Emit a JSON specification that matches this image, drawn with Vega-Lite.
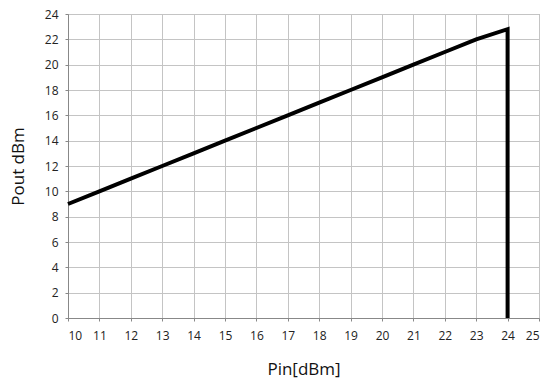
{
  "$schema": "https://vega.github.io/schema/vega-lite/v6.json",
  "width": 471,
  "height": 304,
  "autosize": "none",
  "padding": {"left": 68, "top": 14, "right": 9, "bottom": 66},
  "background": "white",
  "data": {
    "values": [
      {"pin": 10, "pout": 9, "o": 0},
      {"pin": 11, "pout": 10, "o": 1},
      {"pin": 12, "pout": 11, "o": 2},
      {"pin": 13, "pout": 12, "o": 3},
      {"pin": 14, "pout": 13, "o": 4},
      {"pin": 15, "pout": 14, "o": 5},
      {"pin": 16, "pout": 15, "o": 6},
      {"pin": 17, "pout": 16, "o": 7},
      {"pin": 18, "pout": 17, "o": 8},
      {"pin": 19, "pout": 18, "o": 9},
      {"pin": 20, "pout": 19, "o": 10},
      {"pin": 21, "pout": 20, "o": 11},
      {"pin": 22, "pout": 21, "o": 12},
      {"pin": 23, "pout": 22, "o": 13},
      {"pin": 24, "pout": 22.8, "o": 14},
      {"pin": 24, "pout": 0, "o": 15}
    ]
  },
  "mark": {"type": "line", "color": "black", "strokeWidth": 4, "strokeJoin": "miter", "clip": false},
  "encoding": {
    "x": {
      "field": "pin", "type": "quantitative",
      "scale": {"domain": [10, 25], "nice": false, "zero": false},
      "axis": {
        "title": "Pin[dBm]", "values": [10,11,12,13,14,15,16,17,18,19,20,21,22,23,24,25],
        "labelFont": "Open Sans", "labelFontSize": 12, "labelColor": "#222",
        "titleFont": "Open Sans", "titleFontSize": 17, "titleFontWeight": "normal", "titleColor": "#111",
        "titlePadding": 20, "labelPadding": 9,
        "tickSize": 3, "tickColor": "#888", "domainColor": "#888",
        "gridColor": "#c4c4c4", "gridWidth": 1
      }
    },
    "y": {
      "field": "pout", "type": "quantitative",
      "scale": {"domain": [0, 24], "nice": false},
      "axis": {
        "title": "Pout dBm", "values": [0,2,4,6,8,10,12,14,16,18,20,22,24],
        "labelFont": "Open Sans", "labelFontSize": 12, "labelColor": "#222",
        "titleFont": "Open Sans", "titleFontSize": 17, "titleFontWeight": "normal", "titleColor": "#111",
        "titlePadding": 17, "labelPadding": 7,
        "tickSize": 3, "tickColor": "#888", "domainColor": "#888",
        "gridColor": "#c4c4c4", "gridWidth": 1
      }
    },
    "order": {"field": "o", "type": "quantitative"}
  },
  "config": {"view": {"stroke": "#999"}}
}
